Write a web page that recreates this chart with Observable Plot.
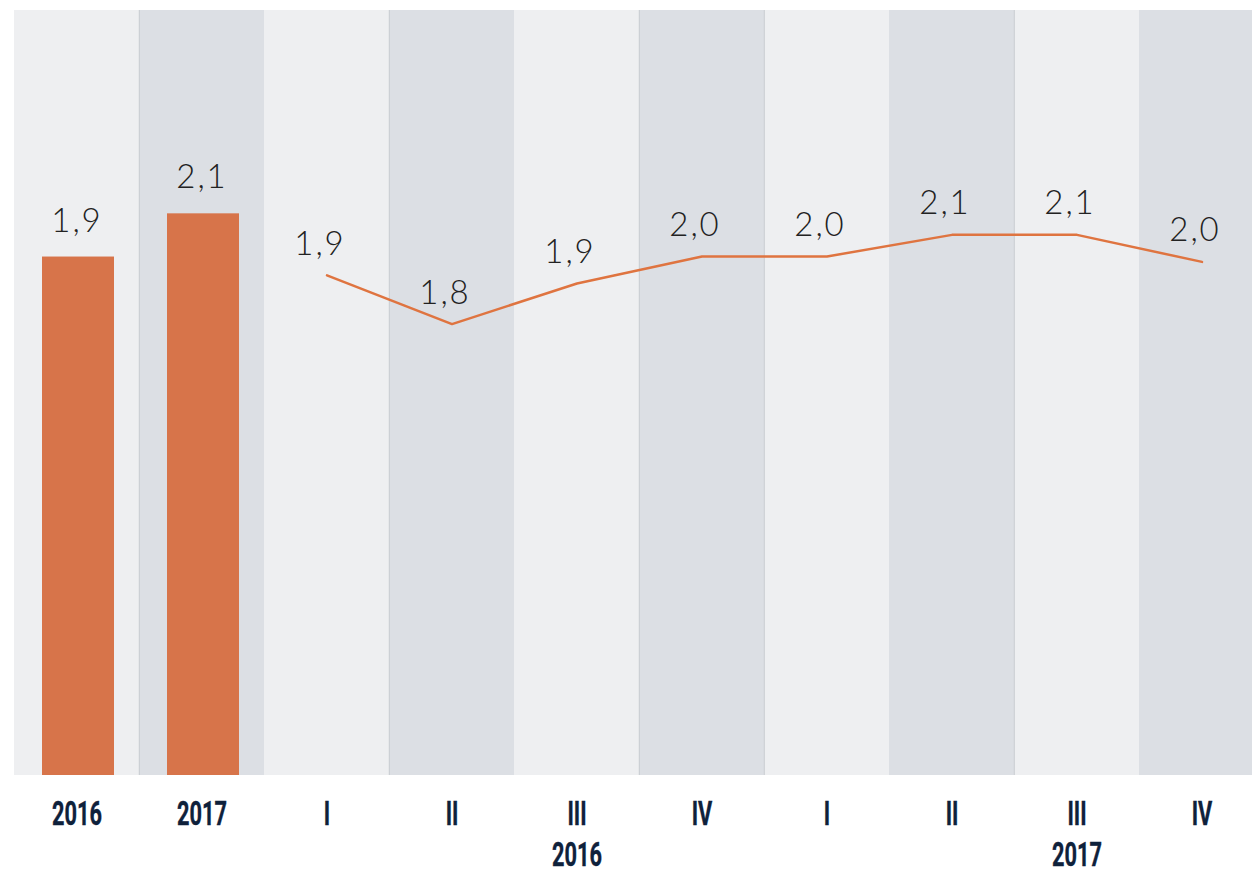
<!DOCTYPE html>
<html>
<head>
<meta charset="utf-8">
<script src="https://cdn.jsdelivr.net/npm/d3@7"></script>
<script src="https://cdn.jsdelivr.net/npm/@observablehq/plot@0.6"></script>
<style>
  html, body { margin: 0; padding: 0; background: #ffffff; overflow: hidden; }
  #wrap { position: relative; width: 1252px; height: 869px; }
  #wrap > svg { position: absolute; left: 0; top: 0; }
</style>
</head>
<body>
<div id="wrap"></div>
<script>
// ---- Data ----
const annualYears = ["2016", "2017"];
const annualValues = [1.92, 2.08];
const annualLabels = ["1,9", "2,1"];

const quarterNames = ["I", "II", "III", "IV", "I", "II", "III", "IV"];
const quarterYears = ["2016", "2016", "2016", "2016", "2017", "2017", "2017", "2017"];
const quarterValues = [1.94, 1.76, 1.91, 2.01, 2.01, 2.09, 2.09, 1.99];
const quarterLabels = ["1,9", "1,8", "1,9", "2,0", "2,0", "2,1", "2,1", "2,0"];

const yearGroupLabels = ["2016", "2017"];

// ---- Derived tables ----
const quarterKeys = quarterNames.map((q, i) => `${q} ${quarterYears[i]}`);
const columns = [...annualYears, ...quarterKeys];
const tickText = new Map(columns.map((k, i) => [k, i < annualYears.length ? annualYears[i] : quarterNames[i - annualYears.length]]));
const annual = annualYears.map((y, i) => ({key: y, value: annualValues[i], label: annualLabels[i]}));
const quarterly = quarterKeys.map((k, i) => ({key: k, value: quarterValues[i], label: quarterLabels[i]}));
const yearGroups = yearGroupLabels.map(y => ({key: `III ${y}`, label: y}));
const lightCols = columns.filter((d, i) => i % 2 === 0);
const darkCols = columns.filter((d, i) => i % 2 === 1);
const dividerCols = [columns[1], columns[3], columns[5], columns[6], columns[8]];

// ---- Style ----
const W = 1252, H = 869;
const xRange = [12, 1266];
const colW = (xRange[1] - xRange[0]) / columns.length;
const light = "#eeeff1", dark = "#dcdfe4", orange = "#d7744a", lineColor = "#df7440";
const navy = "#0e213b";
const valueFont = "Lato, 'Open Sans', sans-serif";
const tickFont = "Roboto, 'DejaVu Sans', sans-serif";
const barTop = 2.833;
const common = {
  width: W, height: H, marginTop: 10, marginBottom: 94, marginLeft: 12, marginRight: 0,
  x: {type: "band", domain: columns, range: xRange, padding: 0, axis: null}
};

const main = Plot.plot({
  ...common,
  style: {background: "#ffffff", overflow: "visible"},
  y: {domain: [0, barTop], range: [775, 10], axis: null},
  marks: [
    Plot.barY(lightCols, {x: d => d, y1: 0, y2: barTop, fill: light}),
    Plot.barY(darkCols, {x: d => d, y1: 0, y2: barTop, fill: dark}),
    Plot.ruleX(dividerCols, {x: d => d, dx: -colW / 2, y1: 0, y2: barTop, stroke: "#c9ccd1", strokeWidth: 1}),
    Plot.barY(annual, {x: "key", y: "value", fill: orange, insetLeft: 28, insetRight: 25}),
    Plot.text(annual, {x: "key", y: "value", text: "label", dy: -36, fontSize: 33, fontWeight: 300, fontFamily: valueFont, fill: "#222222", className: "vlabel"}),
    Plot.axisX({label: null, tickSize: 0, tickPadding: 25, tickFormat: d => tickText.get(d), fontSize: 34, fontWeight: "bold", fontFamily: tickFont, fill: navy, className: "tlabel"}),
    Plot.text(yearGroups, {x: "key", text: "label", frameAnchor: "bottom", lineAnchor: "top", dy: 66, fontSize: 34, fontWeight: "bold", fontFamily: tickFont, fill: navy, className: "tlabel"})
  ]
});

const overlay = Plot.plot({
  ...common,
  style: {background: "transparent", overflow: "visible"},
  y: {domain: [0.09, 2.92], range: [775, 10], axis: null},
  marks: [
    Plot.line(quarterly, {x: "key", y: "value", stroke: lineColor, strokeWidth: 2.5}),
    Plot.text(quarterly, {x: "key", y: "value", text: "label", dy: -31, dx: -7, fontSize: 33, fontWeight: 300, fontFamily: valueFont, fill: "#222222", className: "vlabel"})
  ]
});

const wrap = document.getElementById("wrap");
wrap.appendChild(main);
wrap.appendChild(overlay);
// condensed look for the category labels
document.querySelectorAll("#wrap svg .tlabel text").forEach(t => {
  const tr = t.getAttribute("transform") || "";
  t.setAttribute("transform", tr + " scale(0.64,1)");
  t.setAttribute("stroke", navy);
  t.setAttribute("stroke-width", "0.4");
});
document.querySelectorAll("#wrap svg .vlabel text").forEach(t => t.style.letterSpacing = "2px");
</script>
</body>
</html>
